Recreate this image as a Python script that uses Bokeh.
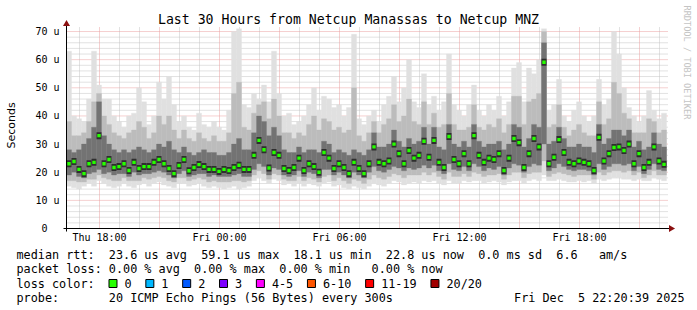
import math
from bokeh.plotting import figure
from bokeh.models import Range1d, Label
from bokeh.embed import file_html
from bokeh.resources import INLINE
from bokeh.core.properties import value

# ---------------- data (hours since Thu 00:00, seconds in micro-units) -------------
T0 = 16.35          # first sample: Thu 16:21
STEP = 0.25         # 15-minute consolidation

median = [23, 23.8, 21, 19.5, 23, 23.5, 33, 23, 24.5, 21.7,
          22, 23, 20.6, 23.5, 21.3, 22, 22, 23.5, 24.5, 23,
          21.3, 19.5, 22.4, 24.5, 20.5, 21.7, 22.7, 22, 21, 21,
          20.3, 21, 20.6, 21.7, 22.5, 21, 21, 26, 31.3, 28,
          21.5, 27, 26, 21.3, 20.6, 21.7, 25, 20.6, 23, 22,
          20, 27, 25, 21.3, 23, 21.7, 19.5, 23.5, 21.3, 19.5,
          23, 29, 23.5, 23, 24, 30, 26.6, 23, 27.7, 25,
          26, 31, 25.3, 31.3, 23.5, 21.7, 32.7, 24.5, 23, 26.6,
          23, 33, 26, 23.5, 25, 24.5, 26.6, 20.6, 25, 32,
          30.5, 21.7, 26.6, 32, 29, 59.1, 23, 25.3, 31.6, 27,
          23.5, 23, 24, 23.5, 23, 20.6, 32.4, 24, 26.6, 28.8,
          29, 27.7, 30, 23, 26.6, 21.7, 23.5, 29, 24, 22.8]

smoke_lo = [15, 14.5, 14, 15, 16, 15, 17, 16, 15, 14.5,
            15, 16, 15, 14.5, 15.5, 16, 15, 16, 16.5, 15.5,
            15, 14.5, 16, 16, 15, 15.5, 16, 15, 14.5, 15,
            14.5, 14, 14.5, 15, 14, 14.5, 15, 17, 18, 17,
            16, 17.5, 17, 15.5, 16, 15, 16, 15, 16, 15.5,
            15, 16, 16.5, 15, 15.5, 14.5, 14, 15, 14.5, 14,
            15, 16, 15.5, 15, 16, 17, 16.5, 15.5, 16, 16.5,
            16, 17, 16.5, 17, 16, 15.5, 17, 16, 16, 17,
            16.5, 17, 17, 16, 16.5, 17, 16.5, 15.5, 16.5, 17,
            17, 16, 17, 17.5, 17, 19, 17, 17, 17.5, 17,
            16.5, 16.5, 17, 16.5, 17, 16, 17.5, 17, 17.5, 18,
            18, 17.5, 17.5, 17, 17.5, 17, 17, 18, 17.5, 17]

smoke_p10 = [17, 17, 16.5, 16.5, 17.5, 17.5, 19, 18, 17.5, 17,
             17, 18, 17, 17, 17, 18, 17.5, 18, 18.5, 18,
             17, 16.5, 18, 18, 17, 17.5, 18, 17.5, 16.5, 17,
             16.5, 16.5, 16.5, 17, 17, 16.5, 17, 19, 20.5, 19.5,
             17.5, 19.5, 19, 17.5, 17, 17, 18.5, 17, 18, 17.5,
             16.5, 18.5, 19, 17, 18, 17, 16, 17.5, 17, 16,
             17.5, 19, 18, 17.5, 18.5, 19.5, 19, 18, 19, 19,
             19, 20, 19, 20, 18.5, 17.5, 20, 18.5, 18.5, 19.5,
             18.5, 20, 19.5, 18.5, 19, 19, 19.5, 17.5, 19, 20,
             20, 18, 19.5, 20, 20, 24, 18.5, 19.5, 20, 19.5,
             19, 18.5, 19, 19, 19, 17.5, 20, 19, 20, 20.5,
             20.5, 20, 20.5, 19, 20, 18, 19, 20.5, 19, 19]

smoke_q1 = [19, 20, 18.5, 18, 19.5, 20, 21, 19.5, 20, 19,
            19.5, 19.5, 18.5, 20, 19, 19.5, 19.5, 20, 20.5, 20,
            19, 18, 19.5, 20.5, 18.5, 19, 19.5, 19.5, 18.5, 19,
            18.5, 18.5, 18.5, 19, 19.5, 18.5, 18.5, 21, 23, 22,
            19, 21.5, 21, 19, 18.5, 19, 20.5, 18.5, 20, 19.5,
            18, 21, 21, 19, 20, 19, 18, 20, 19, 18,
            20, 22, 20.5, 20, 21, 22, 21.5, 20.5, 21.5, 21,
            21.5, 22.5, 21.5, 22.5, 20.5, 19.5, 23, 21, 20.5, 22,
            20.5, 23, 22, 20.5, 21.5, 21, 22, 19, 21.5, 23,
            22.5, 20, 22, 23, 22.5, 30, 20.5, 21.5, 23, 22,
            21, 20.5, 21, 21, 20.5, 19, 23, 21, 22, 23,
            23, 22.5, 23, 20.5, 22, 19.5, 21, 23, 21, 20.5]

smoke_q3 = [28, 27, 28, 30, 32, 36, 45, 33, 30, 28,
            27, 28, 27, 28, 29, 28, 27, 28, 30, 29,
            31, 28, 27, 29, 27, 26, 27, 28, 27, 27,
            26, 26, 27, 30, 32, 28, 28, 34, 40, 38,
            33, 36, 33, 28, 27, 27, 29, 27, 28, 28,
            27, 31, 30, 27, 28, 27, 26, 28, 27, 26,
            28, 34, 29, 29, 30, 35, 31, 29, 32, 30,
            31, 36, 30, 36, 29, 28, 37, 30, 29, 31,
            29, 37, 31, 29, 30, 30, 31, 28, 30, 37,
            36, 29, 32, 37, 36, 66, 30, 31, 36, 32,
            29, 29, 30, 29, 29, 27, 37, 30, 32, 35,
            35, 33, 35, 29, 31, 28, 29, 34, 30, 29]

smoke_p90 = [38, 33, 33, 34, 38, 45, 48, 40, 37, 34,
             33, 32, 34, 35, 38, 36, 32, 34, 40, 37,
             40, 35, 32, 35, 32, 31, 34, 32, 31, 33,
             31, 31, 34, 48, 52, 36, 35, 41, 44, 45,
             39, 46, 40, 34, 34, 32, 34, 33, 37, 40,
             35, 39, 38, 35, 36, 34, 35, 50, 33, 31,
             34, 38, 34, 37, 39, 44, 38, 40, 46, 38,
             37, 45, 37, 41, 36, 37, 48, 37, 35, 35,
             36, 44, 36, 35, 37, 36, 39, 34, 37, 47,
             47, 37, 45, 46, 48, 70, 36, 37, 44, 36,
             33, 35, 37, 34, 33, 33, 45, 37, 39, 52,
             48, 41, 39, 34, 34, 34, 39, 38, 34, 35]

smoke_hi = [63, 40, 39, 38, 46, 63, 51, 46, 46, 40,
            38, 36, 40, 41, 50, 45, 37, 40, 52, 46,
            54, 44, 38, 40, 36, 35, 41, 37, 36, 38,
            36, 35, 42, 70, 71, 44, 43, 48, 46, 51,
            45, 63, 48, 40, 41, 37, 38, 40, 44, 50,
            42, 47, 46, 43, 44, 40, 43, 69, 39, 37,
            40, 42, 38, 44, 47, 54, 45, 50, 60, 45,
            43, 55, 44, 47, 42, 45, 62, 44, 42, 40,
            44, 51, 42, 40, 44, 42, 47, 40, 45, 57,
            59, 45, 57, 55, 60, 71, 42, 44, 53, 40,
            38, 42, 45, 40, 38, 40, 53, 44, 46, 70,
            62, 50, 43, 40, 38, 40, 49, 42, 39, 41]

x_ticks = [18, 24, 30, 36, 42]
x_tick_labels = ["Thu 18:00", "Fri 00:00", "Fri 06:00", "Fri 12:00", "Fri 18:00"]
y_ticks = [0, 10, 20, 30, 40, 50, 60, 70]
y_tick_labels = ["0\u00a0\u00a0", "10 u", "20 u", "30 u", "40 u", "50 u", "60 u", "70 u"]

title_text = "Last 30 Hours from Netcup Manassas to Netcup MNZ"
y_title = "Seconds"
watermark = "RRDTOOL / TOBI OETIKER"

legend_lines = ["median rtt:  23.6 us avg  59.1 us max  18.1 us min  22.8 us now  0.0 ms sd  6.6   am/s",
                "packet loss: 0.00 % avg  0.00 % max  0.00 % min   0.00 % now",
                "loss color:",
                "probe:       20 ICMP Echo Pings (56 Bytes) every 300s"]
timestamp = "Fri Dec  5 22:20:39 2025"
loss_labels = ["0", "1", "2", "3", "4-5", "6-10", "11-19", "20/20"]
loss_colors = ["#26ff00", "#00b8ff", "#0059ff", "#7e00ff", "#ff00ff", "#ff5500", "#ff0000", "#a10000"]

# ---------------- geometry ----------------
W, H = 697, 310
LEFT = 66          # pixel column of the time axis origin
AXIS_Y = 228       # pixel row of the zero line
PX_H = 20.0        # px per hour
PX_U = 2.814       # px per micro-second
GRID_X_END = T0 + 602 / PX_H
GRID_Y_END = (AXIS_Y - 26) / PX_U


def px2t(px):
    return T0 + (px - LEFT) / PX_H


def px2v(py):
    return (AXIS_Y - py) / PX_U


MONO = "DejaVu Sans Mono"

p = figure(width=W, height=H, x_range=Range1d(px2t(0), px2t(W)), y_range=Range1d(px2v(H), px2v(0)),
           output_backend="svg", toolbar_location=None, x_axis_location=None, y_axis_location=None,
           min_border=0, min_border_left=0, min_border_right=0, min_border_top=0, min_border_bottom=0)
p.title.visible = False
p.outline_line_color = None
p.background_fill_color = "white"
p.border_fill_color = "white"
p.xgrid.visible = False
p.ygrid.visible = False

# grid
hours = list(range(17, int(GRID_X_END) + 1))
minor_h = [h for h in hours if h % 3 != 0]
major_h = [h for h in hours if h % 3 == 0]
minor_v = [v for v in range(2, 72, 2) if v % 10 != 0]
major_v = [v for v in range(10, 71, 10)]
p.segment(x0=minor_h, x1=minor_h, y0=0, y1=GRID_Y_END, line_color="#c4c4c4", line_dash="1 1", line_width=1)
p.segment(x0=T0, x1=GRID_X_END, y0=minor_v, y1=minor_v, line_color="#c4c4c4", line_dash="1 1", line_width=1)
p.segment(x0=major_h, x1=major_h, y0=0, y1=GRID_Y_END, line_color="#eba0a0", line_dash="1 1", line_width=1)
p.segment(x0=T0, x1=GRID_X_END, y0=major_v, y1=major_v, line_color="#eba0a0", line_dash="1 1", line_width=1)

# smoke
n = len(median)
left = [T0 + STEP * i for i in range(n)]
right = [T0 + STEP * (i + 1) for i in range(n)]
centers = [T0 + STEP * (i + 0.5) for i in range(n)]
for lo, hi, col in [(smoke_lo, smoke_hi, "#e0e0e0"),
                    (smoke_p10, smoke_p90, "#bcbcbc"),
                    (smoke_q1, smoke_q3, "#737373")]:
    p.quad(left=left, right=right, bottom=lo, top=hi, fill_color=col, line_color=col, line_width=0.3)

# densest pings around the median
p.rect(x=centers, y=median, width=STEP, height=7, height_units="screen",
       fill_color="#2e2e2e", line_color=None)
# median
p.scatter(x=centers, y=median, marker="square", size=3.4, fill_color=loss_colors[0], line_color=None)

# axis lines + arrows
p.segment(x0=px2t(63), x1=px2t(669), y0=0, y1=0, line_color="black", line_width=1)
p.segment(x0=T0, x1=T0, y0=px2v(231), y1=px2v(25), line_color="black", line_width=1)
p.scatter(x=[px2t(670.5)], y=[0], marker="triangle", size=7, angle=-math.pi / 2,
          fill_color="#8b1010", line_color=None)
p.scatter(x=[T0], y=[px2v(23.5)], marker="triangle", size=7, angle=0,
          fill_color="#8b1010", line_color=None)

# tick labels
p.text(x=x_ticks, y=[px2v(237)] * len(x_ticks), text=x_tick_labels, text_align="center",
       text_baseline="middle", text_font=value(MONO), text_font_size="10px", text_color="black")
p.text(x=[px2t(59)] * len(y_ticks), y=y_ticks, text=y_tick_labels, text_align="right",
       text_baseline="middle", text_font=value(MONO), text_font_size="10px", text_color="black")

# titles
p.add_layout(Label(x=px2t(348), y=px2v(19), text=title_text, text_align="center",
                   text_baseline="middle", text_font=MONO, text_font_size="13.2px", text_color="black"))
p.add_layout(Label(x=px2t(686), y=px2v(5), text=watermark, angle=-math.pi / 2, text_align="left",
                   text_baseline="middle", text_font=MONO, text_font_size="8.6px", text_color="#c4c4c4"))
p.add_layout(Label(x=px2t(11), y=px2v(125), text=y_title, angle=math.pi / 2, text_align="center",
                   text_baseline="middle", text_font="DejaVu Sans", text_font_size="11px", text_color="black"))

# ---------------- legend ----------------
CW = 7.115
LX = 16
rows_py = [254.5, 268.5, 283, 297]
nb = lambda s: s.replace(" ", "\u00a0")
p.text(x=[px2t(LX)] * len(legend_lines), y=[px2v(v) for v in rows_py], text=[nb(s) for s in legend_lines],
       text_baseline="middle", text_font=value(MONO), text_font_size="11.8px", text_color="black")
p.text(x=[px2t(684)], y=[px2v(rows_py[3])], text=[nb(timestamp)], text_font=value(MONO),
       text_font_size="11.8px", text_baseline="middle", text_align="right", text_color="black")

box_x, lab_x = [], []
cur = LX + 13 * CW
for lab in loss_labels:
    box_x.append(px2t(cur + 4))
    lab_x.append(px2t(cur + 15.5))
    cur = cur + 15.5 + (len(lab) + 2) * CW
p.rect(x=box_x, y=[px2v(rows_py[2])] * len(box_x), width=8, height=8, width_units="screen",
       height_units="screen", fill_color=loss_colors, line_color="black", line_width=1)
p.text(x=lab_x, y=[px2v(rows_py[2])] * len(lab_x), text=loss_labels, text_font=value(MONO),
       text_font_size="11.8px", text_baseline="middle", text_color="black")

open("out.html", "w").write(file_html(p, INLINE))
